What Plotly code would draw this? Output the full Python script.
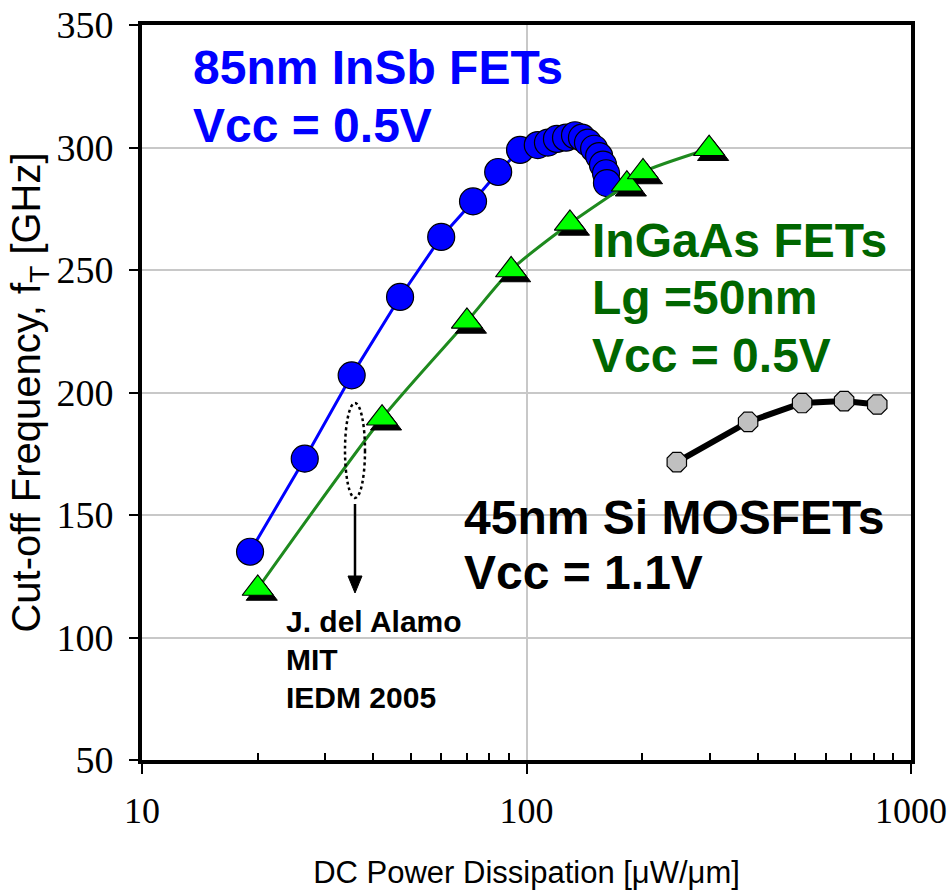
import plotly.graph_objects as go

# ---------------- data ----------------
insb_power = [19.1, 26.5, 35.1, 46.9, 60.0, 72.6, 84.4, 96.2, 107, 113.7, 120, 126.7,
              133.7, 139.4, 144.5, 149.9, 154.5, 158.1, 161.0, 161.9]
insb_ft = [135, 173, 207, 239, 263.5, 278, 290, 299, 301, 302, 303.5, 304,
           305, 304, 302, 299.5, 296.5, 293, 289.5, 285.5]

ingaas_power = [20.0, 42.1, 70.0, 91.2, 129.7, 182.4, 200.9, 298.5]
ingaas_ft = [120, 189.5, 229, 250, 269, 285, 290, 299.5]

si_power = [246, 377, 521, 670, 817]
si_ft = [171.6, 188, 195.7, 196.5, 195.1]

y_ticks = [50, 100, 150, 200, 250, 300, 350]
x_ticks = [10, 100, 1000]
x_minor = [20, 30, 40, 50, 60, 70, 80, 90, 200, 300, 400, 500, 600, 700, 800, 900]

# ---------------- layout geometry ----------------
W, H = 950, 896
ML, MR, MT, MB = 142, 39, 25, 136
PW, PH = W - ML - MR, H - MT - MB


def px(x):
    return (x - ML) / PW


def py(y):
    return (H - MB - y) / PH


fig = go.Figure()

# InSb
fig.add_trace(go.Scatter(
    x=insb_power, y=insb_ft, mode="lines+markers",
    line=dict(color="#0000FF", width=3),
    marker=dict(symbol="circle", size=27, color="#0000FF",
                line=dict(color="#000000", width=1.2)),
    showlegend=False))

# InGaAs line
fig.add_trace(go.Scatter(
    x=ingaas_power, y=ingaas_ft, mode="lines",
    line=dict(color="#1E8A1E", width=3, shape="spline", smoothing=0.7),
    showlegend=False))

# Si MOSFETs
fig.add_trace(go.Scatter(
    x=si_power, y=si_ft, mode="lines+markers",
    line=dict(color="#000000", width=6),
    marker=dict(symbol="octagon", size=21, color="#C0C0C0",
                line=dict(color="#000000", width=1.2)),
    showlegend=False))

# InGaAs marker shadow (offset overlay axes)
fig.add_trace(go.Scatter(
    x=ingaas_power, y=ingaas_ft, mode="markers", xaxis="x2", yaxis="y2",
    marker=dict(symbol="triangle-up", size=27, color="#000000",
                line=dict(color="#000000", width=1)),
    showlegend=False))

# InGaAs markers (drawn on top overlay axes with identical ranges)
fig.add_trace(go.Scatter(
    x=ingaas_power, y=ingaas_ft, mode="markers", xaxis="x3", yaxis="y3",
    marker=dict(symbol="triangle-up", size=27, color="#00FF00",
                line=dict(color="#000000", width=1.2)),
    showlegend=False))

dx = 4 / (PW / 2.0)    # 4px in log decades
dy = 5 / (PH / 300.0)  # 5px in GHz

fig.update_layout(
    width=W, height=H,
    margin=dict(l=ML, r=MR, t=MT, b=MB, pad=0),
    paper_bgcolor="white", plot_bgcolor="white",
    xaxis=dict(
        type="log", range=[1, 3], tickvals=x_ticks, ticktext=[str(v) for v in x_ticks],
        ticks="outside", ticklen=10, tickwidth=2, tickcolor="#000000",
        showline=True, linewidth=4, linecolor="#000000", mirror=True,
        showgrid=True, gridcolor="#C8C8C8", gridwidth=2,
        minor=dict(tickvals=x_minor, ticks="inside", ticklen=7, tickwidth=1.5,
                   tickcolor="#000000", showgrid=False),
        tickfont=dict(family="Liberation Serif", size=36, color="#000000"),
        ticklabelstandoff=6, automargin=False,
        title=dict(text="DC Power Dissipation [μW/μm]",
                   font=dict(family="Liberation Sans", size=31, color="#000000"),
                   standoff=32),
        zeroline=False),
    yaxis=dict(
        range=[50, 350], tickvals=y_ticks,
        ticks="outside", ticklen=9, tickwidth=2, tickcolor="#000000",
        showline=True, linewidth=4, linecolor="#000000", mirror=True,
        showgrid=True, gridcolor="#C8C8C8", gridwidth=2,
        tickfont=dict(family="Liberation Serif", size=38, color="#000000"),
        ticklabelstandoff=8, automargin=False,
        title=dict(text="Cut-off Frequency, f<sub>T</sub> [GHz]",
                   font=dict(family="Liberation Sans", size=40, color="#000000"),
                   standoff=4),
        zeroline=False),
    xaxis2=dict(type="log", range=[1 - dx, 3 - dx], overlaying="x", visible=False),
    yaxis2=dict(range=[50 + dy, 350 + dy], overlaying="y", visible=False),
    xaxis3=dict(type="log", range=[1, 3], overlaying="x", visible=False),
    yaxis3=dict(range=[50, 350], overlaying="y", visible=False),
)


def label(text, x, y, color, size):
    fig.add_annotation(text=text, xref="paper", yref="paper", x=px(x), y=py(y),
                       xanchor="left", yanchor="middle", showarrow=False,
                       font=dict(family="Liberation Sans", size=size, color=color))


label("<b>85nm InSb FETs</b>", 191, 67, "#0000FF", 48)
label("<b>Vcc = 0.5V</b>", 191, 125, "#0000FF", 48)
label("<b>InGaAs FETs</b>", 590, 240, "#006600", 48)
label("<b>Lg =50nm</b>", 590, 297, "#006600", 48)
label("<b>Vcc = 0.5V</b>", 590, 355, "#006600", 48)
label("<b>45nm Si MOSFETs</b>", 462, 517, "#000000", 48)
label("<b>Vcc = 1.1V</b>", 462, 572, "#000000", 48)
label("<b>J. del Alamo</b>", 284, 621, "#000000", 30)
label("<b>MIT</b>", 284, 659, "#000000", 30)
label("<b>IEDM 2005</b>", 284, 697, "#000000", 30)

# dotted ellipse
fig.add_shape(type="circle", xref="paper", yref="paper",
              x0=px(345), x1=px(365), y0=py(498), y1=py(403),
              line=dict(color="#000000", width=2.5, dash="dot"))

# arrow shaft and head
fig.add_shape(type="line", xref="paper", yref="paper",
              x0=px(355), x1=px(355), y0=py(504), y1=py(580),
              line=dict(color="#000000", width=2.5))
fig.add_shape(type="path", xref="paper", yref="paper",
              path=f"M {px(348)} {py(576)} L {px(362)} {py(576)} L {px(355)} {py(593)} Z",
              fillcolor="#000000", line=dict(color="#000000", width=1))

fig.write_html("out.html")
